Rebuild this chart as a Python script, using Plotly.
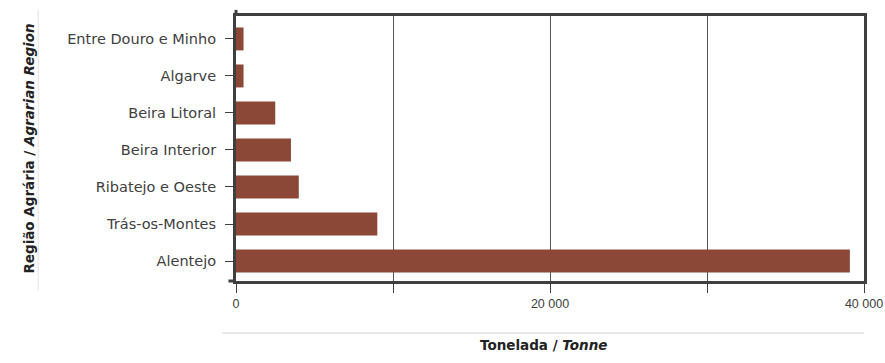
import plotly.graph_objects as go

# dados
regioes = ["Alentejo", "Trás-os-Montes", "Ribatejo e Oeste", "Beira Interior",
           "Beira Litoral", "Algarve", "Entre Douro e Minho"]
toneladas = [39100, 9000, 4000, 3500, 2500, 480, 480]

tick_vals = [0, 10000, 20000, 30000, 40000]
tick_text = ["0", "", "20 000", "", "40 000"]

fonte = "DejaVu Sans, sans-serif"
escuro = "#3f3f3f"

fig = go.Figure(go.Bar(
    x=toneladas, y=regioes, orientation="h",
    marker=dict(color="#8C4837", line=dict(width=0)),
    hoverinfo="x+y",
))

fig.update_layout(
    width=885, height=363,
    margin=dict(l=236, r=21, t=16, b=82),
    paper_bgcolor="white", plot_bgcolor="white",
    font=dict(family=fonte, size=14.5, color="#404040"),
    bargap=0.38,
    showlegend=False,
)

fig.update_xaxes(
    range=[0, 40000], tickvals=tick_vals, ticktext=tick_text,
    showgrid=True, gridcolor="#555555", gridwidth=1,
    showline=True, linecolor=escuro, linewidth=3, mirror=True,
    ticks="outside", ticklen=9, tickwidth=1, tickcolor=escuro,
    tickfont=dict(family="Liberation Sans, Arial, sans-serif", size=12.5),
    ticklabeloverflow="allow", zeroline=False, automargin=False,
)
fig.update_yaxes(
    range=[-0.54, 6.62],
    showgrid=False,
    showline=True, linecolor=escuro, linewidth=3, mirror=True,
    ticks="outside", ticklen=8, tickwidth=1, tickcolor=escuro,
    ticklabelstandoff=6, automargin=False,
)

# prolongamentos dos eixos e linhas claras
fig.add_shape(type="line", xref="paper", yref="paper", x0=0, x1=0, y0=1.0, y1=1.023,
              line=dict(color=escuro, width=3))
fig.add_shape(type="line", xref="paper", yref="paper", x0=-0.012, x1=0, y0=0, y1=0,
              line=dict(color=escuro, width=3))
fig.add_shape(type="line", xref="paper", yref="paper", x0=-0.315, x1=-0.315, y0=-0.034, y1=1.023,
              line=dict(color="#e3e3e3", width=1))
fig.add_shape(type="line", xref="paper", yref="paper", x0=-0.022, x1=1.0, y0=-0.196, y1=-0.196,
              line=dict(color="#e8e8e8", width=2))

fig.add_annotation(
    text="<b>Região Agrária / <i>Agrarian Region</i></b>",
    xref="paper", yref="paper", x=-0.347, y=0.5, textangle=-90,
    showarrow=False, font=dict(size=13.5, color="#222222"),
)
fig.add_annotation(
    text="<b>Tonelada / <i>Tonne</i></b>",
    xref="paper", yref="paper", x=0.49, y=-0.279,
    showarrow=False, font=dict(size=13.5, color="#222222"),
)

# sem margem no body, para a figura ocupar a janela toda
fig.write_html("out.html", config={"displayModeBar": False},
               post_script="document.body.style.margin='0';")
